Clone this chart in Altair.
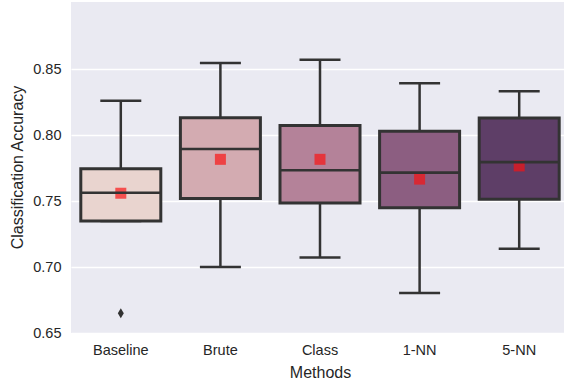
import altair as alt
import pandas as pd

# Summary statistics per method (classification accuracy)
methods = ["Baseline", "Brute", "Class", "1-NN", "5-NN"]
whisker_low = [0.7348, 0.700, 0.7073, 0.6803, 0.7139]
q1 = [0.7348, 0.752, 0.7485, 0.7449, 0.7513]
median = [0.7563, 0.7894, 0.7733, 0.7715, 0.7795]
q3 = [0.7745, 0.8131, 0.8073, 0.8028, 0.8129]
whisker_high = [0.826, 0.8545, 0.857, 0.8392, 0.8331]
means = [0.7559, 0.7816, 0.7816, 0.7666, 0.7766]

outlier_methods = ["Baseline"]
outlier_values = [0.665]

box_colors = ["#e9d4cf", "#d3abb1", "#b48299", "#8c5e81", "#5e3e67"]
line_color = "#333333"
y_ticks = [0.65, 0.70, 0.75, 0.80, 0.85]

stats = pd.DataFrame({
    "method": methods,
    "lo": whisker_low,
    "q1": q1,
    "med": median,
    "q3": q3,
    "hi": whisker_high,
    "mean": means,
})
outliers = pd.DataFrame({"method": outlier_methods, "value": outlier_values})

FONT = "Liberation Sans"

x_enc = alt.X(
    "method:N",
    sort=methods,
    scale=alt.Scale(range=[0, 498], paddingInner=0, paddingOuter=0),
    axis=alt.Axis(
        title="Methods",
        labelAngle=0,
        ticks=False,
        domain=False,
        grid=False,
        labelPadding=17,
        labelBaseline="middle",
        labelFontSize=14.5,
        labelColor="#262626",
        labelFont=FONT,
        titleFont=FONT,
        titleFontSize=16,
        titleFontWeight="normal",
        titleColor="#262626",
        titleBaseline="middle",
        titleX=249,
        titleY=39,
    ),
)

y_scale = alt.Scale(domain=[0.65, 0.9008], nice=False, zero=False)
y_axis = alt.Axis(
    title="Classification Accuracy",
    values=y_ticks,
    format=".2f",
    grid=True,
    gridColor="white",
    gridWidth=1.3,
    ticks=False,
    domain=False,
    labelPadding=10,
    labelFontSize=14.5,
    labelColor="#262626",
    labelFont=FONT,
    titleFont=FONT,
    titleFontSize=16,
    titleFontWeight="normal",
    titleColor="#262626",
    titleBaseline="middle",
    titleX=-54,
    titleY=165,
)

color_enc = alt.Color(
    "method:N", sort=methods, scale=alt.Scale(domain=methods, range=box_colors), legend=None
)

base = alt.Chart(stats)

upper_whisker = base.mark_rule(color=line_color, strokeWidth=2.5, opacity=1).encode(
    x=x_enc, y=alt.Y("q3:Q", scale=y_scale, axis=y_axis), y2="hi:Q"
)
lower_whisker = base.mark_rule(color=line_color, strokeWidth=2.5, opacity=1).encode(
    x=x_enc, y=alt.Y("lo:Q", scale=y_scale, axis=y_axis), y2="q1:Q"
)
caps_hi = base.mark_tick(color=line_color, size=41, thickness=2.5, opacity=1).encode(
    x=x_enc, y=alt.Y("hi:Q", scale=y_scale, axis=y_axis)
)
caps_lo = base.mark_tick(color=line_color, size=41, thickness=2.5, opacity=1).encode(
    x=x_enc, y=alt.Y("lo:Q", scale=y_scale, axis=y_axis)
)
boxes = base.mark_bar(size=80, stroke=line_color, strokeWidth=3, opacity=1).encode(
    x=x_enc, y=alt.Y("q1:Q", scale=y_scale, axis=y_axis), y2="q3:Q", color=color_enc
)
mean_marks = base.mark_point(
    shape="square", filled=True, size=121, color="#fa1010", opacity=0.68, strokeWidth=0
).encode(x=x_enc, y=alt.Y("mean:Q", scale=y_scale, axis=y_axis))
medians = base.mark_tick(color=line_color, size=80, thickness=2.6, opacity=1).encode(
    x=x_enc, y=alt.Y("med:Q", scale=y_scale, axis=y_axis)
)
fliers = alt.Chart(outliers).mark_point(
    shape="M0,-1L0.6,0L0,1L-0.6,0Z", filled=True, size=100, color=line_color, opacity=1
).encode(x=x_enc, y=alt.Y("value:Q", scale=y_scale, axis=y_axis))

chart = (
    alt.layer(upper_whisker, lower_whisker, caps_hi, caps_lo, boxes, mean_marks, medians, fliers)
    .properties(
        width=493,
        height=331,
        autosize=alt.AutoSizeParams(type="none"),
        padding={"left": 71, "top": 2, "right": 0, "bottom": 52},
        background="white",
    )
    .configure_view(fill="#eaeaf2", strokeWidth=0)
)

chart.save("out.html", embed_options={"renderer": "svg", "actions": False})
